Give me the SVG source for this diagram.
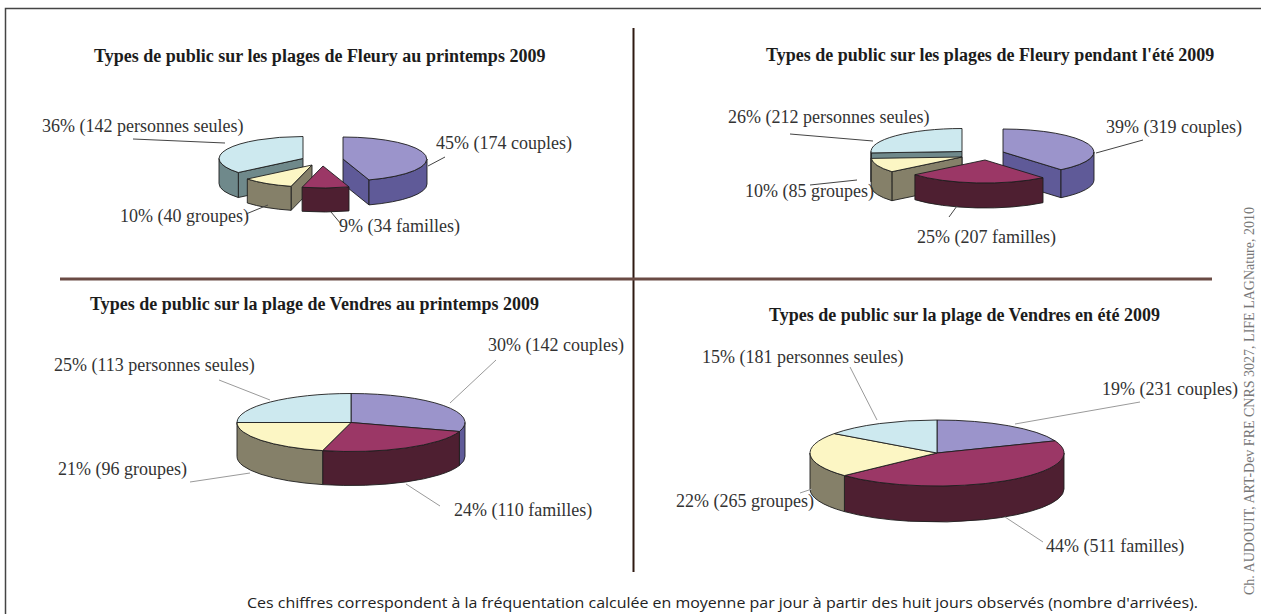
<svg xmlns="http://www.w3.org/2000/svg" width="1261" height="614" viewBox="0 0 1261 614">
<style>
.bg{fill:#fff}
.frame{fill:none;stroke:#444;stroke-width:1.5}
.title{font-family:"Liberation Serif","Times New Roman",serif;font-weight:bold;font-size:18px;fill:#1c1c1c}
.lbl{font-family:"Liberation Serif","Times New Roman",serif;font-size:18px;fill:#333}
.cap{font-family:"Open Sans","Liberation Sans",sans-serif;font-size:14.5px;fill:#222}
.credit{font-family:"Liberation Serif","Times New Roman",serif;font-size:14px;fill:#777}
.e{stroke:#1e1e1e;stroke-width:0.9;stroke-linejoin:round}
.pt{fill:#9b94cb}.ps{fill:#5f5a98}
.mt{fill:#9b3766}.ms{fill:#4e1f31}
.yt{fill:#fcf6c4}.ys{fill:#858069}
.bt{fill:#cde9ef}.bs{fill:#6f898b}
.ld{fill:none;stroke:#444;stroke-width:1}
.lg{fill:none;stroke:#9a9a9a;stroke-width:1}
</style>
<rect class="bg" x="0" y="0" width="1261" height="614"/>
<rect class="frame" x="5.5" y="8.5" width="1270" height="620"/>
<g id="dividers">
<line x1="633.5" y1="28" x2="633.5" y2="572" stroke="#2f1a12" stroke-width="2"/>
<line x1="60" y1="279" x2="1212" y2="279" stroke="#6a4b44" stroke-width="3"/>
</g>

<g id="chart-fleury-printemps">
<text class="title" x="94" y="62">Types de public sur les plages de Fleury au printemps 2009</text>
<g id="tl-seules" class="e">
<path class="bs" d="M303,158.5 L238.3,172.5 L238.3,197.5 L303,183.5 Z"/>
<path class="bs" d="M238.3,172.5 A84,22 0 0 1 219,158.5 L219,183.5 A84,22 0 0 0 238.3,197.5 Z"/>
<path class="bt" d="M303,158.5 L238.3,172.5 A84,22 0 0 1 303,136.5 Z"/>
</g>
<g id="tl-couples" class="e">
<path class="ps" d="M343,159 L369,179.9 L369,204.9 L343,184 Z"/>
<path class="ps" d="M427,159 A84,22 0 0 1 369,179.9 L369,204.9 A84,22 0 0 0 427,184 Z"/>
<path class="pt" d="M343,159 L343,137 A84,22 0 0 1 369,179.9 Z"/>
</g>
<g id="tl-groupes" class="e">
<path class="ys" d="M312,165 L291.1,186.3 L291.1,210.3 L312,189 Z"/>
<path class="ys" d="M291.1,186.3 A84,22 0 0 1 247.3,179 L247.3,203 A84,22 0 0 0 291.1,210.3 Z"/>
<path class="yt" d="M312,165 L291.1,186.3 A84,22 0 0 1 247.3,179 Z"/>
</g>
<g id="tl-familles" class="e">
<path class="ms" d="M349,186.9 A84,22 0 0 1 302.1,187.3 L302.1,211.3 A84,22 0 0 0 349,210.9 Z"/>
<path class="mt" d="M323,166 L349,186.9 A84,22 0 0 1 302.1,187.3 Z"/>
</g>
<text class="lbl" x="42" y="132">36% (142 personnes seules)</text>
<text class="lbl" x="436" y="149">45% (174 couples)</text>
<text class="lbl" x="120" y="222">10% (40 groupes)</text>
<text class="lbl" x="339" y="232">9% (34 familles)</text>
</g>

<g id="chart-fleury-ete">
<text class="title" x="766" y="61">Types de public sur les plages de Fleury pendant l'été 2009</text>
<g id="tr-seules" class="e">
<path class="bs" d="M962,151.5 L871.2,152.9 L871.2,181.9 L962,180.5 Z"/>
<path class="bs" d="M871.2,152.9 A91,23 0 0 1 871,151.5 L871,180.5 A91,23 0 0 0 871.2,181.9 Z"/>
<path class="bt" d="M962,151.5 L871.2,152.9 A91,23 0 0 1 962,128.5 Z"/>
</g>
<g id="tr-couples" class="e">
<path class="ps" d="M1003,152 L1061,169.7 L1061,197.7 L1003,180 Z"/>
<path class="ps" d="M1094,152 A91,23 0 0 1 1061,169.7 L1061,197.7 A91,23 0 0 0 1094,180 Z"/>
<path class="pt" d="M1003,152 L1003,129 A91,23 0 0 1 1061,169.7 Z"/>
</g>
<g id="tr-groupes" class="e">
<path class="ys" d="M962,157 L891.9,171.7 L891.9,200.7 L962,186 Z"/>
<path class="ys" d="M891.9,171.7 A91,23 0 0 1 871.2,158.4 L871.2,187.4 A91,23 0 0 0 891.9,200.7 Z"/>
<path class="yt" d="M962,157 L891.9,171.7 A91,23 0 0 1 871.2,158.4 Z"/>
</g>
<g id="tr-familles" class="e">
<path class="ms" d="M1043,177.7 A91,23 0 0 1 914.9,174.7 L914.9,199.7 A91,23 0 0 0 1043,202.7 Z"/>
<path class="mt" d="M985,160 L1043,177.7 A91,23 0 0 1 914.9,174.7 Z"/>
</g>
<text class="lbl" x="728" y="123">26% (212 personnes seules)</text>
<text class="lbl" x="1106" y="133">39% (319 couples)</text>
<text class="lbl" x="745" y="197">10% (85 groupes)</text>
<text class="lbl" x="917" y="243">25% (207 familles)</text>
</g>

<g id="chart-vendres-printemps">
<text class="title" x="90" y="310">Types de public sur la plage de Vendres au printemps 2009</text>
<g id="bl-pie" class="e">
<path class="ps" d="M465,422.5 A114,29 0 0 1 459.4,431.5 L459.4,465.5 A114,29 0 0 0 465,456.5 Z"/>
<path class="ms" d="M459.4,431.5 A114,29 0 0 1 322.65,450.6 L322.65,484.6 A114,29 0 0 0 459.4,465.5 Z"/>
<path class="ys" d="M322.65,450.6 A114,29 0 0 1 237,422.5 L237,456.5 A114,29 0 0 0 322.65,484.6 Z"/>
<path class="pt" d="M351,422.5 L351,393.5 A114,29 0 0 1 459.4,431.5 Z"/>
<path class="mt" d="M351,422.5 L459.4,431.5 A114,29 0 0 1 322.65,450.6 Z"/>
<path class="yt" d="M351,422.5 L322.65,450.6 A114,29 0 0 1 237,422.5 Z"/>
<path class="bt" d="M351,422.5 L237,422.5 A114,29 0 0 1 351,393.5 Z"/>
</g>
<text class="lbl" x="488" y="351">30% (142 couples)</text>
<text class="lbl" x="54" y="371">25% (113 personnes seules)</text>
<text class="lbl" x="58" y="475">21% (96 groupes)</text>
<text class="lbl" x="454" y="516">24% (110 familles)</text>
</g>

<g id="chart-vendres-ete">
<text class="title" x="769" y="321">Types de public sur la plage de Vendres en été 2009</text>
<g id="br-pie" class="e">
<path class="ms" d="M1064,453 A127,33 0 0 1 844.42,475.59 L844.42,511.59 A127,33 0 0 0 1064,489 Z"/>
<path class="ys" d="M844.42,475.59 A127,33 0 0 1 810,453 L810,489 A127,33 0 0 0 844.42,511.59 Z"/>
<path class="pt" d="M937,453 L937,420 A127,33 0 0 1 1055.1,440.85 Z"/>
<path class="mt" d="M937,453 L1055.1,440.85 A127,33 0 0 1 844.42,475.59 Z"/>
<path class="yt" d="M937,453 L844.42,475.59 A127,33 0 0 1 834.26,433.6 Z"/>
<path class="bt" d="M937,453 L834.26,433.6 A127,33 0 0 1 937,420 Z"/>
</g>
<text class="lbl" x="702" y="363">15% (181 personnes seules)</text>
<text class="lbl" x="1102" y="395">19% (231 couples)</text>
<text class="lbl" x="676" y="507">22% (265 groupes)</text>
<text class="lbl" x="1046" y="552">44% (511 familles)</text>
</g>

<g id="leaders">
<path class="ld" d="M133,139 L225,143"/>
<path class="ld" d="M428,166 L445,157"/>
<path class="ld" d="M246,214 L268,205"/>
<path class="ld" d="M331,212 L341,224"/>
<path class="ld" d="M790,134 L873,141"/>
<path class="ld" d="M1096,153 L1143,140"/>
<path class="ld" d="M810,185 L857,180"/>
<path class="ld" d="M949,217 L957,206"/>
<path class="lg" d="M450,403 L496,360"/>
<path class="lg" d="M219,380 L270,400"/>
<path class="lg" d="M190,482 L250,473"/>
<path class="lg" d="M406,484 L440,506"/>
<path class="lg" d="M850,367 L877,420"/>
<path class="lg" d="M1015,424 L1140,402"/>
<path class="lg" d="M800,493 L812,489"/>
<path class="lg" d="M1005,517 L1043,542"/>
</g>

<text class="cap" x="247" y="608" textLength="951" lengthAdjust="spacingAndGlyphs">Ces chiffres correspondent à la fréquentation calculée en moyenne par jour à partir des huit jours observés (nombre d'arrivées).</text>
<text class="credit" transform="translate(1254,595) rotate(-90)" x="0" y="0" textLength="388" lengthAdjust="spacingAndGlyphs">Ch. AUDOUIT, ART-Dev FRE CNRS 3027, LIFE LAGNature, 2010</text>
</svg>
